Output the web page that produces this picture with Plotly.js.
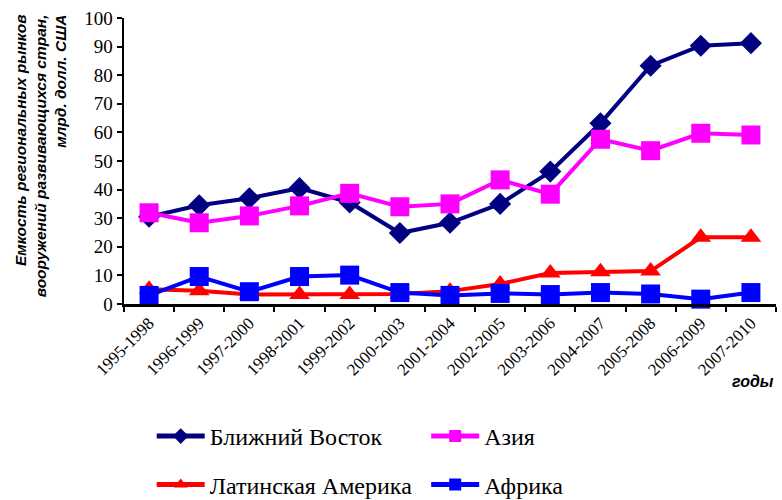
<!DOCTYPE html>
<html><head><meta charset="utf-8">
<script src="https://cdn.plot.ly/plotly-3.0.1.min.js"></script>
<style>
body{margin:0;background:#fff}
#c{width:782px;height:500px}
#c .xtick text, #c .ytick text, #c .legendtext {font-family:"Liberation Serif","Times New Roman",serif !important;}
</style>
</head><body><div id="c"></div>
<script>
const periods = ["1995-1998","1996-1999","1997-2000","1998-2001","1999-2002","2000-2003","2001-2004","2002-2005","2003-2006","2004-2007","2005-2008","2006-2009","2007-2010"];
const middleEast = [30.5, 34.5, 37, 40.5, 35.5, 24.8, 28.4, 35, 46.3, 63.2, 83.3, 90.3, 91.2];
const asia = [31.9, 28.4, 30.8, 34.3, 38.7, 34, 35, 43.4, 38.4, 57.6, 53.6, 59.7, 59.1];
const latinAmerica = [5.2, 4.6, 3.3, 3.3, 3.3, 3.5, 4.5, 7, 10.8, 11.3, 11.5, 23.3, 23.3];
const africa = [3, 9.6, 4.3, 9.6, 10.1, 4, 3, 3.7, 3.3, 4, 3.5, 1.7, 4];
const names = ["Ближний Восток","Азия","Латинская Америка","Африка"];

const SERIF = "Liberation Serif";
const SANS = "Liberation Sans";

const legendIds = ["legend","legend2","legend3","legend4"];
const traces = [
  {x: periods, y: middleEast, name: names[0], mode: "lines+markers", line:{color:"#000080", width:4}, marker:{symbol:"diamond", size:17, color:"#000080"}},
  {x: periods, y: asia, name: names[1], mode: "lines+markers", line:{color:"#FF00FF", width:4}, marker:{symbol:"square", size:19, color:"#FF00FF"}},
  {x: periods, y: latinAmerica, name: names[2], mode: "lines+markers", line:{color:"#FF0000", width:4}, marker:{symbol:"triangle-up", size:18, color:"#FF0000"}},
  {x: periods, y: africa, name: names[3], mode: "lines+markers", line:{color:"#0000FF", width:4}, marker:{symbol:"square", size:19, color:"#0000FF"}}
];
traces.forEach((t, i) => { t.cliponaxis = false; t.legend = legendIds[i]; });

function legendAt(x, y) {
  return {orientation:"h", xref:"container", yref:"container", xanchor:"left", yanchor:"middle", x:x, y:y,
    font:{family:SERIF, size:24, color:"#000"}, itemwidth:48, itemsizing:"constant", bgcolor:"rgba(0,0,0,0)"};
}

const layout = {
  width:782, height:500,
  margin:{l:124, r:6, t:18, b:196, autoexpand:false},
  paper_bgcolor:"#fff", plot_bgcolor:"#fff",
  font:{family:SERIF, color:"#000"},
  showlegend:true,
  legend: legendAt(0.194, 0.127),
  legend2: legendAt(0.545, 0.127),
  legend3: legendAt(0.194, 0.03),
  legend4: legendAt(0.545, 0.03),
  xaxis:{type:"category", showgrid:false, showline:true, linecolor:"#000", linewidth:2.5, ticks:"outside", ticklen:5, tickwidth:2, tickcolor:"#000", tickson:"boundaries", tickangle:-45, tickfont:{family:SERIF, size:17, color:"#000"}, range:[-0.5,12.5], zeroline:false, automargin:false},
  yaxis:{range:[0,100], dtick:10, showgrid:false, showline:true, linecolor:"#000", linewidth:2.5, ticks:"outside", ticklen:5, tickwidth:2, tickcolor:"#000", tickfont:{family:SERIF, size:19, color:"#000"}, zeroline:false, automargin:false},
  annotations:[
    {text:"<b><i>Емкость региональных рынков<br>вооружений развивающихся стран,<br>млрд. долл. США</i></b>", xref:"paper", yref:"paper", x:-0.128, y:1.02, xanchor:"center", yanchor:"top", textangle:-90, align:"right", showarrow:false, font:{family:SANS, size:15.5, color:"#000"}},
    {text:"<b><i>годы</i></b>", xref:"paper", yref:"paper", x:1, y:-0.27, xanchor:"right", yanchor:"middle", showarrow:false, font:{family:SANS, size:16, color:"#000"}}
  ]
};
const config = {displayModeBar:false, staticPlot:true};
function draw(){ return Plotly.newPlot("c", traces, JSON.parse(JSON.stringify(layout)), config); }
draw();
const fontsReady = (document.fonts && document.fonts.ready) ? document.fonts.ready : Promise.resolve();
fontsReady.then(() => setTimeout(draw, 60));
</script></body></html>
